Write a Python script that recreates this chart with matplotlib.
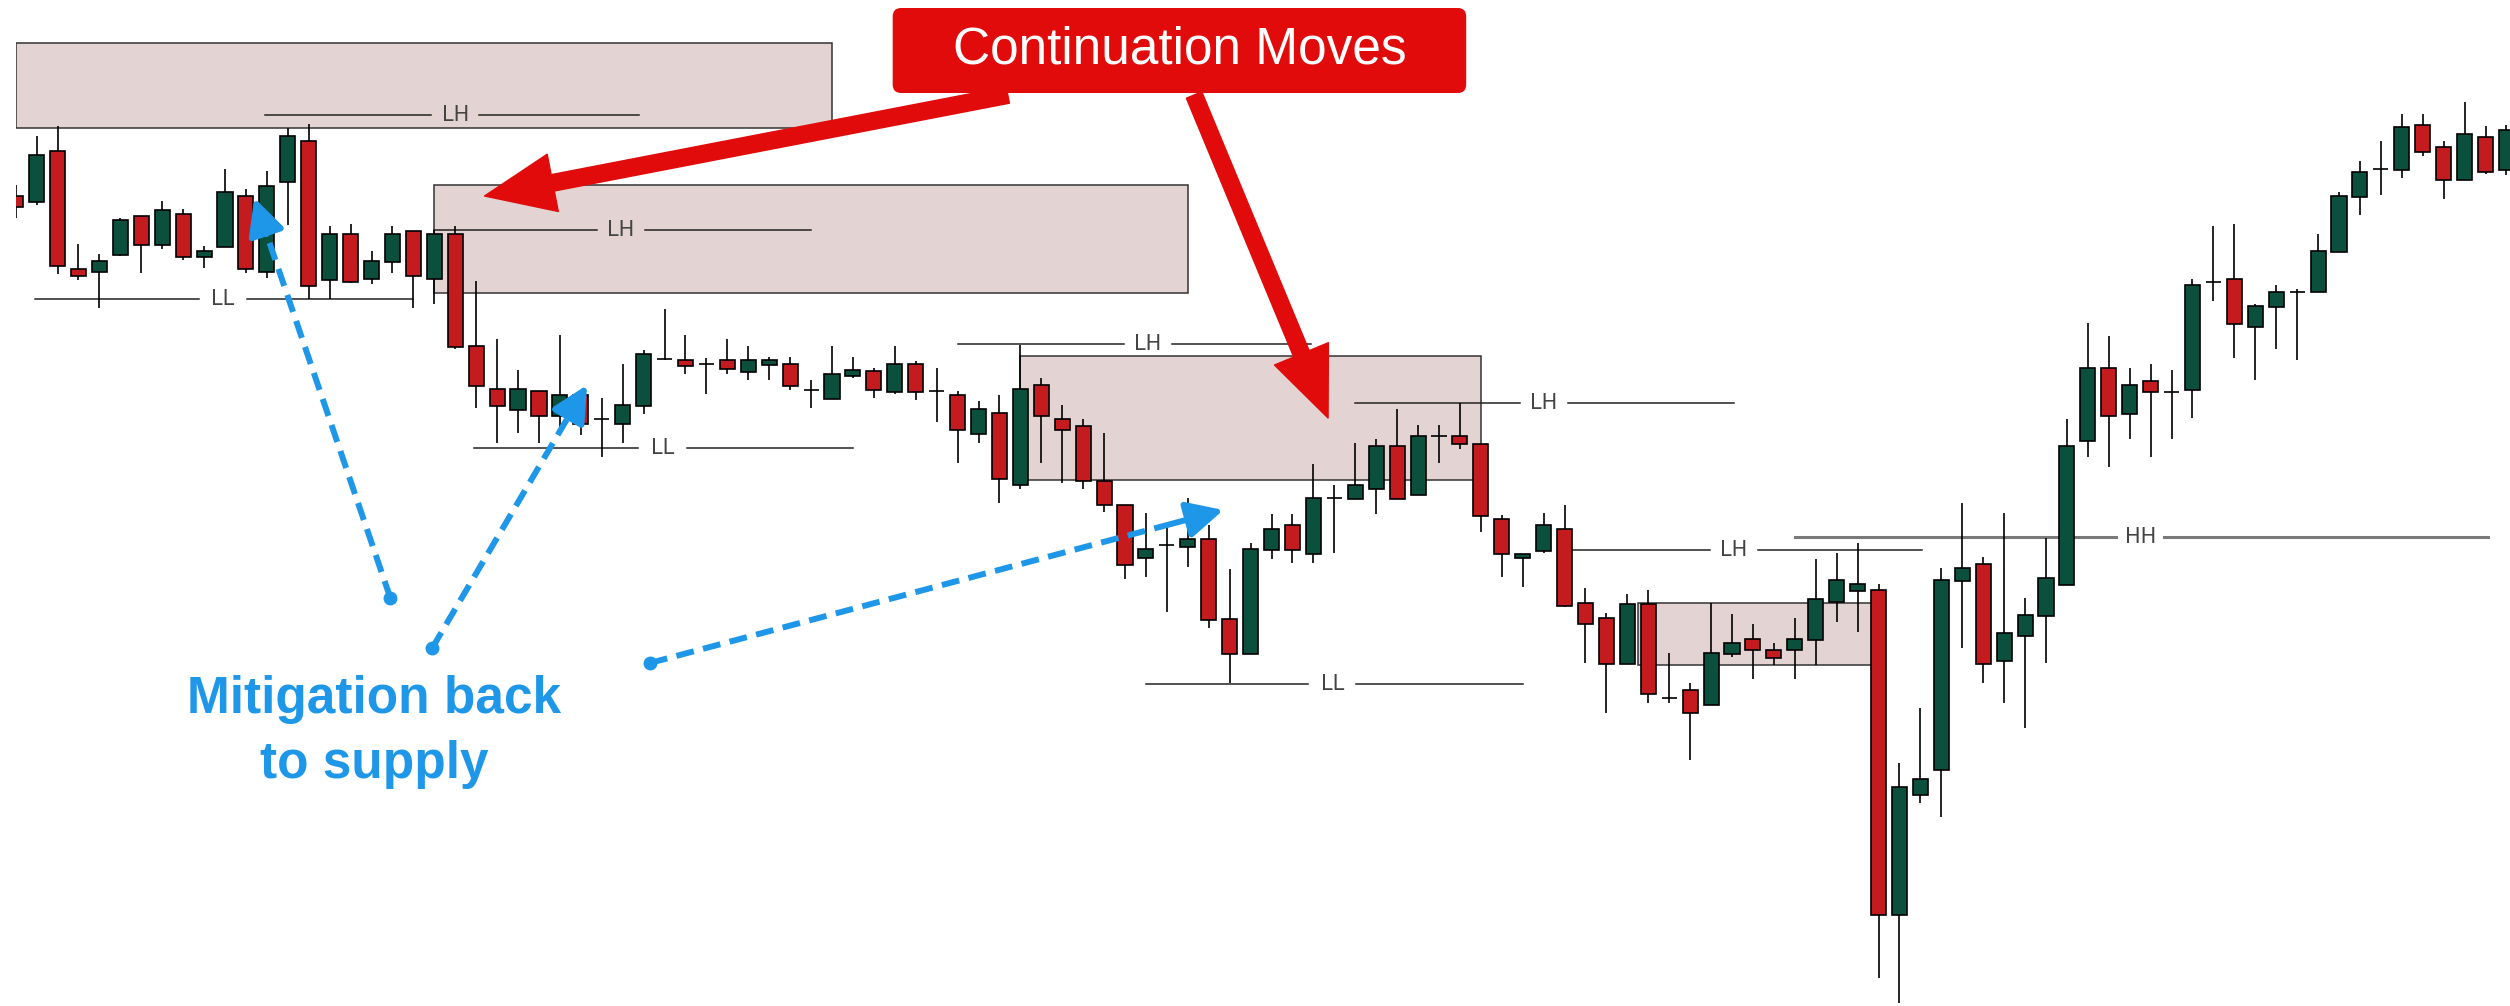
import numpy as np
import matplotlib.pyplot as plt
from matplotlib.patches import Rectangle, FancyBboxPatch

# candle data (price points)
opens = [904, 898, 949, 831, 828, 845, 884, 855, 886, 843, 853, 904, 828, 918, 959, 820, 866, 821, 838, 869,
         821, 866, 754, 711, 690, 709, 684, 705, 681, 676, 694, 741, 740, 736, 740, 728, 735, 736, 710, 701,
         724, 729, 708, 736, 709, 705, 666, 687, 615, 715, 681, 674, 619, 595, 542, 555, 553, 561, 481, 446,
         550, 575, 546, 602, 601, 611, 654, 605, 664, 664, 656, 581, 542, 549, 571, 497, 482, 436, 496, 402,
         410, 395, 446, 461, 450, 450, 460, 498, 509, 510, 185, 305, 330, 519, 536, 439, 464, 484, 515, 659,
         732, 686, 719, 708, 710, 818, 821, 773, 793, 808, 808, 848, 903, 931, 930, 975, 953, 920, 963, 930]
highs = [915, 964, 974, 856, 846, 882, 884, 899, 891, 854, 931, 911, 929, 972, 976, 874, 876, 849, 874, 869,
         870, 874, 819, 761, 730, 709, 765, 705, 702, 736, 750, 791, 765, 742, 761, 754, 743, 743, 720, 754,
         743, 732, 754, 739, 732, 709, 699, 705, 755, 722, 695, 681, 667, 595, 587, 577, 602, 575, 531, 557,
         586, 586, 636, 615, 657, 661, 691, 675, 675, 697, 656, 585, 546, 587, 595, 512, 487, 506, 510, 447,
         417, 497, 486, 476, 457, 482, 541, 547, 557, 516, 337, 392, 532, 597, 543, 587, 502, 562, 681, 777,
         764, 732, 736, 730, 821, 874, 876, 796, 815, 811, 866, 908, 939, 959, 986, 986, 959, 998, 974, 975]
lows = [882, 895, 826, 820, 792, 844, 827, 851, 840, 832, 853, 827, 822, 875, 801, 801, 817, 816, 827, 792,
        796, 751, 692, 657, 667, 657, 673, 665, 643, 657, 686, 740, 726, 706, 726, 720, 720, 710, 692, 701,
        722, 702, 706, 700, 678, 637, 657, 597, 611, 637, 617, 611, 588, 521, 523, 488, 533, 472, 417, 446,
        541, 537, 537, 547, 601, 586, 601, 605, 637, 651, 568, 523, 513, 547, 493, 437, 387, 436, 397, 397,
        340, 395, 443, 421, 435, 421, 435, 478, 468, 122, 97, 297, 283, 452, 417, 397, 372, 437, 515, 643,
        633, 661, 643, 661, 682, 799, 742, 720, 751, 740, 808, 848, 885, 905, 922, 944, 901, 920, 926, 925]
closes = [893, 945, 834, 824, 839, 880, 855, 890, 843, 849, 908, 831, 914, 964, 814, 866, 818, 839, 866, 824,
          866, 753, 714, 694, 711, 684, 705, 676, 681, 695, 746, 741, 734, 736, 731, 740, 740, 714, 710, 726,
          730, 710, 736, 708, 709, 670, 691, 621, 711, 684, 670, 619, 595, 535, 551, 555, 561, 480, 446, 551,
          571, 550, 602, 602, 615, 654, 601, 664, 664, 656, 584, 546, 546, 575, 494, 476, 436, 496, 406, 402,
          387, 447, 457, 450, 442, 461, 501, 520, 516, 185, 313, 321, 520, 532, 436, 467, 485, 522, 654, 732,
          684, 715, 708, 708, 815, 818, 776, 794, 808, 808, 849, 904, 928, 931, 973, 948, 920, 966, 928, 970]

# supply zones
zone_start = [0, 20, 48, 77.5]
zone_end = [39, 56, 70, 88.75]
zone_top = [1057, 915, 744, 497]
zone_bottom = [972, 807, 620, 435]

# swing high / low markers
swing_labels = ["LH", "LL", "LH", "LL", "LH", "LH", "LL", "LH", "HH"]
swing_levels = [985, 801, 870, 652, 756, 697, 416, 550, 563]
swing_from = [11.9, 0.9, 20, 21.9, 45, 64, 54, 74, 85]
swing_to = [29.8, 19, 38, 40, 61.9, 82.1, 72, 91.1, 118.1]
swing_label_at = [21, 9.9, 28.9, 30.9, 54.1, 73, 62.9, 82.1, 101.5]

green = "#0b4f3d"
red = "#c41b1f"
blue = "#1f97e8"
callout_red = "#e10b0b"

fig = plt.figure(figsize=(25.1, 10.06), dpi=100)
# chart area starts a little in from the left edge, first candle is cut in half
left = 15.7 / 2510
ax = fig.add_axes([left, 0, 1 - left, 1])
ax.axis("off")
ax.set_xlim(0, 119.17)
ax.set_ylim(94, 1100)

for s, e, t, b in zip(zone_start, zone_end, zone_top, zone_bottom):
    ax.add_patch(Rectangle((s, b), e - s, t - b, facecolor="#e4d3d3",
                           edgecolor="#333333", lw=1.1, zorder=1))

for lab, lev, x0, x1, xl in zip(swing_labels, swing_levels, swing_from, swing_to, swing_label_at):
    col = "#7a7a7a" if lab == "HH" else "#222222"
    lw = 2.2 if lab == "HH" else 1.1
    gap = 1.15
    ax.plot([x0, xl - gap], [lev, lev], color=col, lw=lw, zorder=2)
    ax.plot([xl + gap, x1], [lev, lev], color=col, lw=lw, zorder=2)
    ax.text(xl, lev, lab, ha="center", va="center", fontsize=15,
            color="#444444", family="DejaVu Sans", zorder=2)

o = np.array(opens)
h = np.array(highs)
l = np.array(lows)
c = np.array(closes)
x = np.arange(len(o))
colors = [green if cc > oo else red for oo, cc in zip(o, c)]

ax.vlines(x, l, h, color="black", lw=1.2, zorder=3)
ax.bar(x, np.abs(c - o), bottom=np.minimum(o, c), width=0.72, color=colors,
       edgecolor="black", linewidth=1.2, zorder=4)

# blue dashed mitigation arrows
blue_starts = [(17.9, 502), (19.9, 452), (30.3, 437)]
blue_tips = [(11.4, 902), (27.3, 715), (57.7, 590)]
for (sx, sy), (tx, ty) in zip(blue_starts, blue_tips):
    nx = tx - 0.09 * (tx - sx)
    ny = ty - 0.09 * (ty - sy)
    ax.plot([sx, nx], [sy, ny], color=blue, lw=4.3, ls=(0, (3, 1.6)),
            solid_capstyle="butt", zorder=5)
    ax.plot(sx, sy, "o", ms=9, color=blue, zorder=5)
    ax.annotate("", xy=(tx, ty), xytext=(nx, ny),
                arrowprops=dict(arrowstyle="-|>,head_length=1.1,head_width=0.55",
                                fc=blue, ec=blue, lw=4.3, mutation_scale=20,
                                shrinkA=0, shrinkB=0), zorder=5)

ax.text(17.14, 368, "Mitigation back\nto supply", ha="center", va="center",
        fontsize=37, fontweight="bold", color=blue, family="Liberation Sans",
        linespacing=1.42, zorder=5)

# red continuation arrows + callout
for tip, start in [((22.4, 904), (47.4, 1005)), ((62.7, 682), (56.3, 1005))]:
    ax.annotate("", xy=tip, xytext=start,
                arrowprops=dict(arrowstyle="simple,head_length=2.5,head_width=2.1,tail_width=0.6",
                                fc=callout_red, ec=callout_red, mutation_scale=20,
                                shrinkA=0, shrinkB=0), zorder=6)

ax.add_patch(FancyBboxPatch((41.9, 1007), 27.4, 85,
                            boxstyle="round,pad=0,rounding_size=0.4",
                            mutation_aspect=20.93, facecolor=callout_red,
                            edgecolor="none", zorder=7))
ax.text(55.6, 1050, "Continuation Moves", ha="center", va="center", fontsize=37,
        color="white", family="Liberation Sans", zorder=8)

fig.savefig("out.png", dpi=100, facecolor="white")
